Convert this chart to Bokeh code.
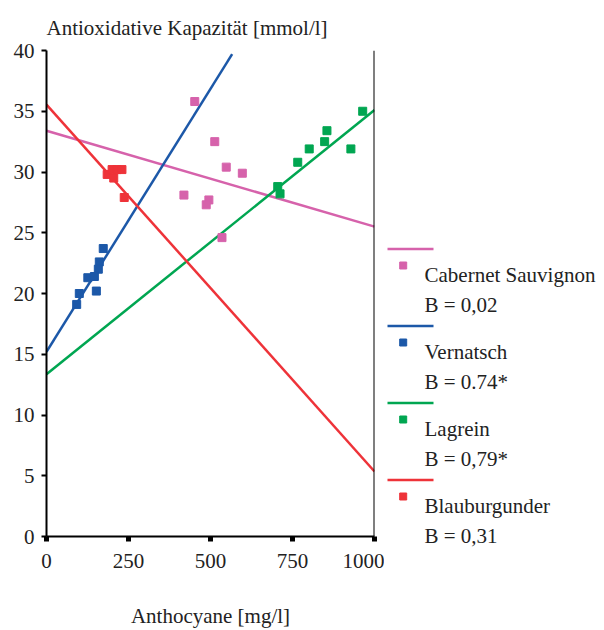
from bokeh.plotting import figure
from bokeh.layouts import row
from bokeh.models import Range1d, Span, FixedTicker
from bokeh.core.properties import value
from bokeh.embed import file_html
from bokeh.resources import INLINE

# ---------------- data ----------------
series = ["Cabernet Sauvignon", "Vernatsch", "Lagrein", "Blauburgunder"]
b_labels = ["B = 0,02", "B = 0.74*", "B = 0,79*", "B = 0,31"]
colors = ["#d662ab", "#1c58a8", "#00a651", "#ee3339"]

cab_x = [452, 513, 548, 597, 419, 495, 487, 535]
cab_y = [35.8, 32.5, 30.4, 29.9, 28.1, 27.7, 27.3, 24.6]
ver_x = [173, 161, 158, 126, 146, 152, 100, 92]
ver_y = [23.7, 22.6, 22.0, 21.3, 21.4, 20.2, 20.0, 19.1]
lag_x = [705, 712, 766, 801, 848, 855, 928, 964]
lag_y = [28.8, 28.2, 30.8, 31.9, 32.5, 33.4, 31.9, 35.0]
bla_x = [185, 200, 215, 230, 205, 237]
bla_y = [29.8, 30.2, 30.2, 30.2, 29.5, 27.9]

# regression lines (intercept, slope, x where line ends)
intercepts = [33.4, 15.2, 13.35, 35.55]
slopes = [-0.0079, 0.0433, 0.02175, -0.0302]
line_x_end = [1000, 566, 1000, 1000]

x_ticks = [0, 250, 500, 750, 1000]
y_ticks = [0, 5, 10, 15, 20, 25, 30, 35, 40]

FONT = "Liberation Serif"
TXT = "#222222"

# ---------------- main plot ----------------
p = figure(width=384, height=630, x_range=Range1d(0, 1000), y_range=Range1d(0, 40),
           output_backend="svg", toolbar_location=None,
           min_border_left=46, min_border_right=10, min_border_top=50, min_border_bottom=93)
p.frame_align = False
p.outline_line_color = None
p.grid.visible = False
p.background_fill_color = "white"
p.border_fill_color = "white"

p.title.text = "Antioxidative Kapazität [mmol/l]"
p.title.text_font = FONT
p.title.text_font_size = "21px"
p.title.text_font_style = "normal"
p.title.text_color = TXT
p.title.align = "left"
p.title.standoff = 22

for ax in (p.xaxis[0], p.yaxis[0]):
    ax.axis_line_width = 2
    ax.axis_line_color = "black"
    ax.major_tick_line_color = "black"
    ax.major_tick_in = 0
    ax.major_tick_out = 5
    ax.minor_tick_line_color = None
    ax.major_label_text_font = FONT
    ax.major_label_text_font_size = "21px"
    ax.major_label_text_color = TXT

p.xaxis.ticker = FixedTicker(ticks=x_ticks)
p.yaxis.ticker = FixedTicker(ticks=y_ticks)
p.xaxis.major_tick_line_width = 5
p.yaxis.major_tick_line_width = 2
p.xaxis.major_label_text_line_height = 1.0
p.xaxis.major_label_standoff = 12
p.yaxis.major_label_standoff = 7
p.xaxis.axis_label = "Anthocyane [mg/l]"
p.xaxis.axis_label_text_font = FONT
p.xaxis.axis_label_text_font_size = "21px"
p.xaxis.axis_label_text_font_style = "normal"
p.xaxis.axis_label_text_color = TXT
p.xaxis.axis_label_text_line_height = 1.0
p.xaxis.axis_label_standoff = 33

p.add_layout(Span(location=1000, dimension="height", line_color="black", line_width=2))

xs_all = [cab_x, ver_x, lag_x, bla_x]
ys_all = [cab_y, ver_y, lag_y, bla_y]

for i in range(4):
    x0, x1 = 0, line_x_end[i]
    p.line([x0, x1], [intercepts[i] + slopes[i] * x0, intercepts[i] + slopes[i] * x1],
           line_color=colors[i], line_width=2.5)

for i in range(4):
    p.scatter(xs_all[i], ys_all[i], marker="square", size=8,
              fill_color=colors[i], line_color=colors[i])

# ---------------- legend panel (pixel coordinates of the page) ----------------
lf = figure(width=220, height=630, x_range=Range1d(384, 604), y_range=Range1d(630, 0),
            output_backend="svg", toolbar_location=None, min_border=0,
            x_axis_location=None, y_axis_location=None)
lf.frame_align = False
lf.outline_line_color = None
lf.grid.visible = False

top0, step = 248.5, 77
for i in range(4):
    t = top0 + i * step
    lf.segment(x0=[387], x1=[433], y0=[t], y1=[t], line_color=colors[i], line_width=2.5)
    lf.scatter([402.7], [t + 16.5], marker="square", size=7,
               fill_color=colors[i], line_color=colors[i])
    lf.text([424], [t + 25.5], text=[series[i]], text_font=value(FONT),
            text_font_size="21px", text_baseline="middle", text_color=TXT)
    lf.text([424], [t + 55.5], text=[b_labels[i]], text_font=value(FONT),
            text_font_size="21px", text_baseline="middle", text_color=TXT)

layout = row(p, lf)
open("out.html", "w").write(file_html(layout, INLINE))
